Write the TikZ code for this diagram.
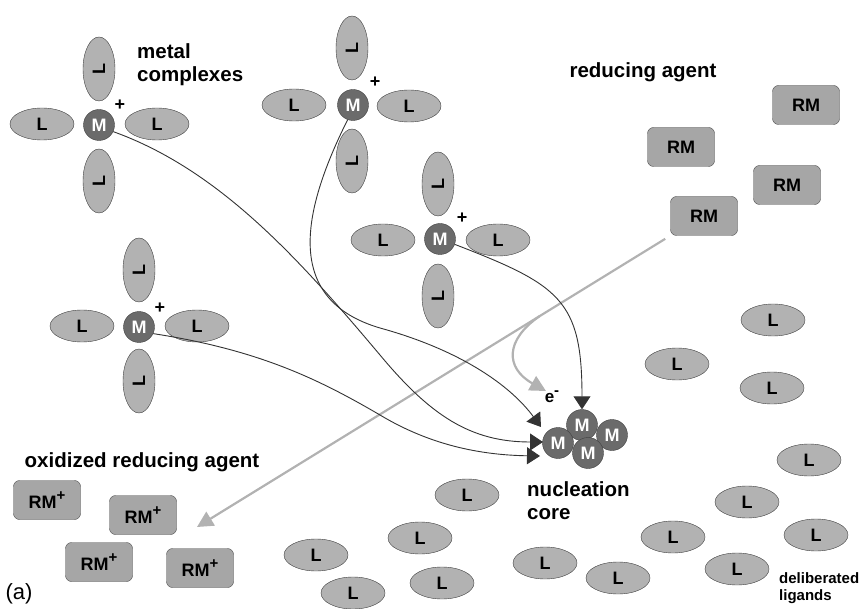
\documentclass[tikz,border=0pt]{standalone}
\usepackage{fontspec}
\setmainfont{Liberation Sans}
\usepackage{tikz}
\usetikzlibrary{shapes,arrows.meta,positioning,calc}

\newcommand\supchg[1]{\raisebox{0.42em}{\fontsize{15}{15}\selectfont #1}}

\begin{document}
\begin{tikzpicture}[x=1pt, y=-1pt,
    lig/.style={ellipse, draw=black!75, fill=black!30, minimum width=64pt, minimum height=32pt, inner sep=0pt, font=\fontsize{18}{18}\selectfont\bfseries},
    ligv/.style={lig, rotate=90},
    metal/.style={circle, draw=black!75, fill=black!58, text=white, minimum size=31pt, inner sep=0pt, font=\fontsize{18}{18}\selectfont\bfseries},
    chg/.style={inner sep=0pt, font=\fontsize{18}{18}\selectfont\bfseries},
    rmbox/.style={draw=black!70, fill=black!35, rounded corners=6pt, minimum width=67pt, minimum height=39pt, inner sep=0pt, font=\fontsize{18}{18}\selectfont\bfseries},
    lbl/.style={inner sep=0pt, align=left, font=\fontsize{20.5}{23}\selectfont\bfseries},
    flow/.style={draw=black!80, line width=0.9pt, -{Triangle[length=13pt,width=17pt]}},
    eflow/.style={draw=black!30, line width=2.2pt, -{Triangle[length=16pt,width=16pt]}}]
    \useasboundingbox (0,0) rectangle (864,609);

    % metal complexes
    \node[metal] (m1) at (99,125) {M};
    \node[lig] (m1l) at (42,124) {L};
    \node[lig] (m1r) at (157,124) {L};
    \node[ligv] (m1t) at (99,69) {L};
    \node[ligv] (m1b) at (99,181) {L};
    \node[chg] (p1) at (120,105) {+};

    \node[metal] (m2) at (353,105) {M};
    \node[lig] (m2l) at (294,105) {L};
    \node[lig] (m2r) at (409,106) {L};
    \node[ligv] (m2t) at (352,48) {L};
    \node[ligv] (m2b) at (352,161) {L};
    \node[chg] (p2) at (375,82) {+};

    \node[metal] (m3) at (440,239) {M};
    \node[lig] (m3l) at (383,240) {L};
    \node[lig] (m3r) at (498,240) {L};
    \node[ligv] (m3t) at (438,184) {L};
    \node[ligv] (m3b) at (438,296) {L};
    \node[chg] (p3) at (462,218) {+};

    \node[metal] (m4) at (139,327) {M};
    \node[lig] (m4l) at (82,326) {L};
    \node[lig] (m4r) at (197,326) {L};
    \node[ligv] (m4t) at (139,270) {L};
    \node[ligv] (m4b) at (139,381) {L};
    \node[chg] (p4) at (160,308) {+};

    \node[lbl, anchor=west] (lmc) at (137,65) {metal\\complexes};

    % reducing agent
    \node[lbl] (lra) at (643,72) {reducing agent};
    \node[rmbox] (r1) at (681,147) {RM};
    \node[rmbox] (r2) at (806,105) {RM};
    \node[rmbox] (r3) at (787,185) {RM};
    \node[rmbox] (r4) at (704,216) {RM};

    % oxidized reducing agent
    \node[lbl] (lox) at (142,462) {oxidized reducing agent};
    \node[rmbox] (o1) at (47,500) {RM\supchg{+}};
    \node[rmbox] (o2) at (143,515) {RM\supchg{+}};
    \node[rmbox] (o3) at (99,562) {RM\supchg{+}};
    \node[rmbox] (o4) at (200,568) {RM\supchg{+}};

    % nucleation core
    \node[metal] (k1) at (582,425) {M};
    \node[metal] (k2) at (612,435) {M};
    \node[metal] (k3) at (558,443) {M};
    \node[metal] (k4) at (588,453) {M};
    \node[lbl, anchor=west] (lnc) at (527,501) {nucleation\\core};
    \node[chg, font=\fontsize{17}{17}\selectfont\bfseries] (el) at (552,397) {e\supchg{-}};

    % deliberated ligands
    \node[lig] (f1) at (773,320) {L};
    \node[lig] (f2) at (677,364) {L};
    \node[lig] (f3) at (772,388) {L};
    \node[lig] (f4) at (809,460) {L};
    \node[lig] (f5) at (747,502) {L};
    \node[lig] (f6) at (673,537) {L};
    \node[lig] (f7) at (816,535) {L};
    \node[lig] (f8) at (737,569) {L};
    \node[lig] (f9) at (467,495) {L};
    \node[lig] (f10) at (420,538) {L};
    \node[lig] (f11) at (316,555) {L};
    \node[lig] (f12) at (442,583) {L};
    \node[lig] (f13) at (353,593) {L};
    \node[lig] (f14) at (545,563) {L};
    \node[lig] (f15) at (618,578) {L};
    \node[lbl, anchor=west, font=\fontsize{15}{17}\selectfont\bfseries] (ldl) at (779,588) {deliberated\\ligands};

    \node[inner sep=0pt, font=\fontsize{22}{22}\selectfont] (pa) at (19,594) {(a)};

    % electron transfer
    \coordinate (ox) at (197,527);
    \coordinate (br) at ($(r4.south west)!0.276!(ox)$);
    \draw[eflow, shorten <=6pt] (r4.south west) -- (ox);
    \draw[eflow] (br) .. controls (505,340) and (505,368) .. (546,391);

    % metal atoms to the core
    \coordinate (tip1) at (541,427);
    \coordinate (tip2) at (543,442);
    \coordinate (tip3) at (540,456);
    \draw[flow] (m1.-25) .. controls (220,170) and (300,260) .. (380,355) .. controls (430,415) and (470,442) .. (tip2);
    \draw[flow] (m2.250) .. controls (300,215) and (285,300) .. (380,328) .. controls (460,350) and (510,385) .. (tip1);
    \draw[flow] (m4.-25) .. controls (260,350) and (320,380) .. (380,415) .. controls (430,445) and (480,455) .. (tip3);
    \draw[flow] (m3.-20) .. controls (560,285) and (582,300) .. (k1.north);
\end{tikzpicture}
\end{document}
